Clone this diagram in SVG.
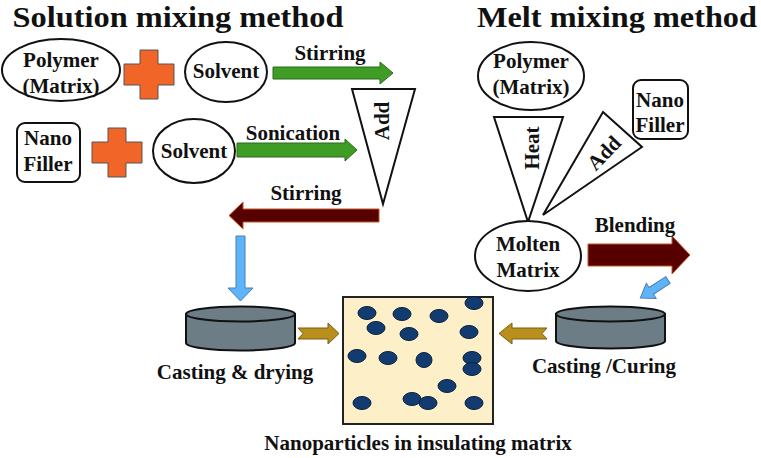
<svg xmlns="http://www.w3.org/2000/svg" width="761" height="458" viewBox="0 0 761 458">
<style>
text{font-family:"Liberation Serif","Times New Roman",serif;font-weight:bold;fill:#111;text-anchor:middle}
.title{font-size:29px}
.t{font-size:21px}
.node{fill:#fff;stroke:#111;stroke-width:2}
.cross{fill:#f26528;stroke:#555;stroke-width:1}
.green{fill:#3f9c25;stroke:#2b6b18;stroke-width:1}
.red{fill:#560000;stroke:#c4531c;stroke-width:1}
.blue{fill:#5db4fb;stroke:#4b7fae;stroke-width:1}
.gold{fill:#b88f1c;stroke:#7b5e0e;stroke-width:1}
.dish{fill:#6c7d85;stroke:#111;stroke-width:2}
.dot{fill:#123b70;stroke:#0a1f3c;stroke-width:1}
</style>
<rect width="761" height="458" fill="#fff"/>
<text class="title" x="178" y="27" textLength="331" lengthAdjust="spacingAndGlyphs">Solution mixing method</text>
<text class="title" x="617" y="27" textLength="280" lengthAdjust="spacingAndGlyphs">Melt mixing method</text>

<g id="polymer-left"><ellipse class="node" cx="61" cy="70" rx="59" ry="31"/><text class="t" x="61" y="67">Polymer</text><text class="t" x="61" y="93">(Matrix)</text></g>
<g id="plus-1"><path class="cross" d="M140,50h18v14h16v21h-16v14h-18v-14h-16v-21h16z"/></g>
<g id="solvent-1"><ellipse class="node" cx="226" cy="72" rx="41" ry="30"/><text class="t" x="226" y="78">Solvent</text></g>
<g id="nanofiller-left"><rect class="node" x="17" y="123" width="63" height="59" rx="8"/><text class="t" x="48" y="145">Nano</text><text class="t" x="48" y="171">Filler</text></g>
<g id="plus-2"><path class="cross" d="M108,128h18v14h16v21h-16v14h-18v-14h-16v-21h16z"/></g>
<g id="solvent-2"><ellipse class="node" cx="194" cy="151" rx="41" ry="32"/><text class="t" x="194" y="158">Solvent</text></g>
<g id="add-left"><polygon class="node" points="352,89 415,89 383,204"/><text class="t" transform="translate(382,121) rotate(-90)" dy="7">Add</text></g>

<g id="polymer-right"><ellipse class="node" cx="531" cy="76" rx="53" ry="34"/><text class="t" x="531" y="68">Polymer</text><text class="t" x="531" y="94">(Matrix)</text></g>
<g id="nanofiller-right"><rect class="node" x="633" y="80" width="55" height="59" rx="8"/><text class="t" x="660" y="107">Nano</text><text class="t" x="660" y="132">Filler</text></g>
<g id="heat"><polygon class="node" points="494,117 563,117 528,222"/><text class="t" transform="translate(532,148) rotate(-90)" dy="7">Heat</text></g>
<g id="add-right"><polygon class="node" points="603,112 642,147 543,215"/><text class="t" transform="translate(604,153) rotate(-46)" dy="7">Add</text></g>
<g id="molten"><ellipse class="node" cx="528" cy="256" rx="53" ry="35"/><text class="t" x="528" y="251">Molten</text><text class="t" x="528" y="277">Matrix</text></g>

<g id="dish-left"><path class="dish" d="M186,314V343A54.5,7.5 0 0 0 295,343V314Z"/><ellipse class="dish" cx="240.5" cy="314" rx="54.5" ry="7.5"/><text class="t" x="235" y="379">Casting &amp; drying</text></g>
<g id="dish-right"><path class="dish" d="M556,314V341A54.5,7.5 0 0 0 665,341V314Z"/><ellipse class="dish" cx="610.5" cy="314" rx="54.5" ry="7.5"/><text class="t" x="604" y="373">Casting /Curing</text></g>

<g id="composite">
<rect x="343" y="297" width="150" height="127" fill="#fdf0c8" stroke="#222" stroke-width="2"/>
<ellipse class="dot" cx="367" cy="313" rx="9" ry="6.5"/>
<ellipse class="dot" cx="402" cy="314" rx="9" ry="6.5"/>
<ellipse class="dot" cx="439" cy="316" rx="9" ry="6.5"/>
<ellipse class="dot" cx="474" cy="303" rx="9" ry="6.5"/>
<ellipse class="dot" cx="376" cy="328" rx="9" ry="6.5"/>
<ellipse class="dot" cx="409" cy="334" rx="9" ry="6.5"/>
<ellipse class="dot" cx="469" cy="332" rx="9" ry="6.5"/>
<ellipse class="dot" cx="357" cy="356" rx="9" ry="6.5"/>
<ellipse class="dot" cx="388" cy="358" rx="9" ry="6.5"/>
<ellipse class="dot" cx="424" cy="360" rx="8" ry="7.5"/>
<ellipse class="dot" cx="472" cy="358" rx="9" ry="6.5"/>
<ellipse class="dot" cx="472" cy="369" rx="9" ry="6.5"/>
<ellipse class="dot" cx="447" cy="386" rx="9" ry="6.5"/>
<ellipse class="dot" cx="362" cy="403" rx="9" ry="6.5"/>
<ellipse class="dot" cx="412" cy="399" rx="9" ry="6.5"/>
<ellipse class="dot" cx="428" cy="403" rx="9" ry="6.5"/>
<ellipse class="dot" cx="474" cy="403" rx="9" ry="6.5"/>
<text class="t" x="418" y="450">Nanoparticles in insulating matrix</text>
</g>

<g id="connectors">
<polygon class="green" points="273,67 380,67 380,62 393,73 380,84 380,79 273,79"/>
<text class="t" x="330" y="60">Stirring</text>
<polygon class="green" points="237,143 345,143 345,139 357,150 345,161 345,157 237,157"/>
<text class="t" x="293" y="140">Sonication</text>
<polygon class="red" points="379,209 243,209 243,202 229,215.5 243,229 243,222 379,222"/>
<text class="t" x="306" y="200">Stirring</text>
<polygon class="blue" points="236,236 245,236 245,288 253,288 240.5,301 228,288 236,288"/>
<polygon class="gold" points="298,328 328,328 328,323 339,333.5 328,344 328,339 298,339 303,333.5"/>
<polygon class="red" points="588,244 672,244 672,236 690,255 672,274 672,266 588,266"/>
<text class="t" x="635" y="232">Blending</text>
<polygon class="blue" transform="translate(668,280) rotate(147)" points="0,-4 20,-4 20,-9 33,0 20,9 20,4 0,4"/>
<polygon class="gold" points="547,328 512,328 512,323 499,333.5 512,344 512,339 547,339 542,333.5"/>
</g>
</svg>
